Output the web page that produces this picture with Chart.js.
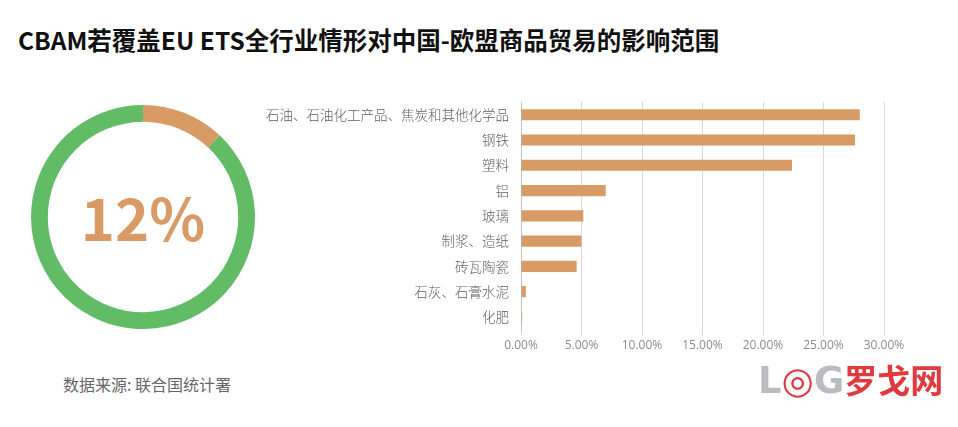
<!DOCTYPE html>
<html>
<head>
<meta charset="utf-8">
<script src="https://cdn.jsdelivr.net/npm/chart.js@4.4.0/dist/chart.umd.min.js"></script>
<style>
  body { margin: 0; width: 958px; height: 427px; background: #fff; position: relative; overflow: hidden; font-family: "Noto Sans CJK SC", sans-serif; }
  #title { position: absolute; left: 18px; top: 22px; font-size: 24.5px; font-weight: bold; color: #111; white-space: nowrap; }
  #donutBox { position: absolute; left: 31px; top: 105px; width: 224px; height: 224px; }
  #barBox { position: absolute; left: 250px; top: 89.5px; width: 660px; height: 266px; }
  #source { position: absolute; left: 63px; top: 372px; font-size: 16px; color: #666; }
  #logo { position: absolute; left: 758px; top: 355px; font-size: 37px; font-weight: bold; white-space: nowrap; font-family: "DejaVu Sans", sans-serif; }
  #logo .g { color: #b9bcc0; }
  #logo .r { color: #e0393e; }
  #logo .cn { font-family: "Noto Sans CJK SC"; font-size: 33px; }
</style>
</head>
<body>
<div id="title">CBAM若覆盖EU ETS全行业情形对中国-欧盟商品贸易的影响范围</div>
<div id="donutBox"><canvas id="donutChart"></canvas></div>
<div id="barBox"><canvas id="barChart"></canvas></div>
<div id="source">数据来源: 联合国统计署</div>
<div id="logo"><span class="g">L</span><span class="r">◎</span><span class="g">G</span><span class="r cn">罗戈网</span></div>
<script>
const shareLabels = ['覆盖', '其他'];
const shareValues = [12, 88];

const categories = ['石油、石油化工产品、焦炭和其他化学品', '钢铁', '塑料', '铝', '玻璃', '制浆、造纸', '砖瓦陶瓷', '石灰、石膏水泥', '化肥'];
const shares = [28.0, 27.6, 22.4, 7.0, 5.15, 5.0, 4.6, 0.4, 0.1];
const xTicks = [0, 5, 10, 15, 20, 25, 30];

const orange = '#d99b66';
const green = '#62bb65';

const centerText = {
    id: 'centerText',
    afterDraw(chart) {
        const { ctx, chartArea } = chart;
        const cx = (chartArea.left + chartArea.right) / 2;
        const cy = (chartArea.top + chartArea.bottom) / 2;
        ctx.save();
        ctx.fillStyle = orange;
        ctx.font = 'bold 58px "Noto Sans CJK SC"';
        ctx.textAlign = 'center';
        ctx.textBaseline = 'middle';
        ctx.fillText(shareValues[0] + '%', cx, cy + 2);
        ctx.restore();
    }
};

const donutChart = new Chart(document.getElementById('donutChart').getContext('2d'), {
    type: 'doughnut',
    data: {
        labels: shareLabels,
        datasets: [{
            data: shareValues,
            backgroundColor: [orange, green],
            borderWidth: 0
        }]
    },
    options: {
        responsive: true,
        maintainAspectRatio: false,
        animation: false,
        cutout: '85%',
        plugins: { legend: { display: false }, tooltip: { enabled: false } }
    },
    plugins: [centerText]
});

const barChart = new Chart(document.getElementById('barChart').getContext('2d'), {
    type: 'bar',
    data: {
        labels: categories,
        datasets: [{
            data: shares,
            backgroundColor: orange,
            categoryPercentage: 0.44,
            barPercentage: 1
        }]
    },
    options: {
        indexAxis: 'y',
        responsive: true,
        maintainAspectRatio: false,
        animation: false,
        layout: { padding: { top: 8, right: 26 } },
        plugins: { legend: { display: false }, tooltip: { enabled: false } },
        scales: {
            x: {
                min: 0,
                max: 30,
                afterBuildTicks(scale) { scale.ticks = xTicks.map(v => ({ value: v })); },
                grid: { color: '#d9d9d9', tickLength: 6, tickColor: '#d9d9d9', drawTicks: true },
                border: { display: false },
                ticks: {
                    color: '#8c8c8c',
                    font: { size: 12, family: '"Open Sans"' },
                    padding: 3,
                    callback: v => v.toFixed(2) + '%'
                }
            },
            y: {
                afterFit(scale) { scale.width = 271; },
                grid: { display: false },
                border: { display: true, color: '#bfbfbf' },
                ticks: {
                    color: '#606060',
                    font: { size: 13.5, family: '"Noto Sans CJK SC"', weight: 300 },
                    padding: 4
                }
            }
        }
    }
});
</script>
</body>
</html>
